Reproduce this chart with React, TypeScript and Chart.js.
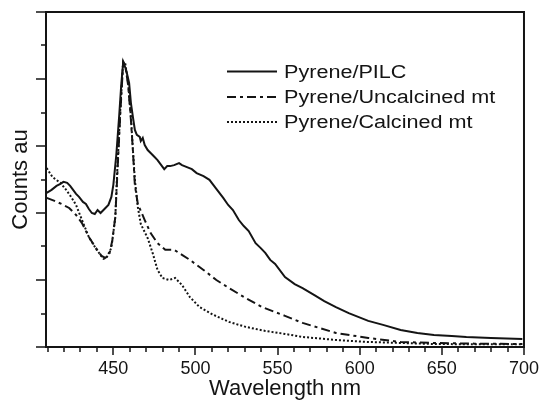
import React, { useEffect, useRef } from 'react';
import { Chart, registerables } from 'chart.js';

Chart.register(...registerables);

// ---- data ----
const seriesLabels = ['Pyrene/PILC', 'Pyrene/Uncalcined mt', 'Pyrene/Calcined mt'];

const pilcNm = [
  409.4, 412.4, 415.4, 417.8, 419.6, 421.9, 423.7, 425.5, 427.3, 429.1, 431.5, 433.3, 435.1, 436.9, 438.7,
  440.4, 442.2, 444.6, 447.0, 448.8, 450.0, 451.8, 453.6, 454.8, 456.0, 457.8, 459.6, 460.7, 461.9, 463.1,
  464.3, 466.1, 466.7, 467.9, 469.1, 470.9, 472.7, 475.1, 476.9, 478.7, 481.0, 482.8, 484.6, 487.0, 490.0,
  491.8, 494.8, 497.8, 500.7, 504.9, 508.5, 512.7, 516.9, 519.9, 522.8, 526.4, 529.4, 532.4, 536.6, 539.6,
  542.5, 545.5, 548.5, 554.5, 560.4, 565.2, 572.4, 578.4, 585.5, 593.3, 605.2, 614.2, 624.9, 635.1, 645.2,
  656.0, 664.9, 679.9, 699.0,
];
const pilcCounts = [
  4.60, 4.69, 4.81, 4.87, 4.93, 4.90, 4.81, 4.69, 4.57, 4.48, 4.33, 4.27, 4.12, 4.00, 3.97,
  4.09, 4.00, 4.12, 4.24, 4.48, 4.84, 5.73, 6.93, 7.82, 8.51, 8.27, 7.88, 7.28, 6.87, 6.48,
  6.33, 6.27, 6.15, 6.24, 6.03, 5.88, 5.79, 5.67, 5.58, 5.46, 5.31, 5.40, 5.40, 5.43, 5.49,
  5.43, 5.37, 5.31, 5.19, 5.10, 4.99, 4.72, 4.45, 4.24, 4.09, 3.79, 3.61, 3.46, 3.10, 2.96,
  2.81, 2.60, 2.48, 2.09, 1.88, 1.76, 1.55, 1.37, 1.19, 1.01, 0.78, 0.66, 0.51, 0.42, 0.36,
  0.33, 0.30, 0.27, 0.24,
];

const uncalcinedNm = [
  409.4, 414.2, 418.4, 423.1, 427.3, 430.9, 435.1, 439.3, 442.8, 445.2, 447.6, 449.4, 451.2, 452.4, 454.2,
  456.0, 457.2, 459.0, 460.7, 461.9, 463.1, 464.9, 469.1, 472.7, 476.9, 481.6, 487.0, 491.8, 496.6, 504.9,
  512.7, 520.4, 530.6, 540.7, 554.5, 565.2, 585.5, 605.2, 624.9, 645.2, 670.0, 699.0,
];
const uncalcinedCounts = [
  4.45, 4.36, 4.27, 4.15, 3.94, 3.70, 3.28, 2.96, 2.72, 2.66, 2.78, 3.19, 3.88, 5.13, 6.93,
  8.51, 8.42, 7.82, 6.78, 5.88, 4.84, 4.27, 3.79, 3.40, 3.10, 2.90, 2.90, 2.75, 2.60, 2.30,
  2.00, 1.76, 1.46, 1.19, 0.93, 0.72, 0.42, 0.27, 0.15, 0.12, 0.10, 0.09,
];

const calcinedNm = [
  409.4, 413.0, 417.8, 421.3, 424.3, 427.3, 430.9, 435.1, 439.9, 444.0, 445.8, 448.8, 451.2, 452.4, 454.2,
  456.0, 457.2, 459.0, 460.7, 461.9, 463.1, 464.9, 466.7, 470.9, 473.9, 476.9, 479.9, 484.0, 487.6, 491.8,
  496.6, 502.5, 510.9, 520.4, 530.6, 542.5, 554.5, 565.2, 585.5, 605.2, 624.9, 645.2, 670.0, 699.6,
];
const calcinedCounts = [
  5.34, 5.07, 4.90, 4.69, 4.48, 4.24, 3.79, 3.28, 2.90, 2.63, 2.66, 2.96, 3.88, 5.28, 7.07,
  8.51, 8.48, 7.88, 6.87, 5.88, 4.99, 4.18, 3.67, 3.25, 2.81, 2.30, 2.06, 2.00, 2.06, 1.85,
  1.49, 1.19, 0.96, 0.75, 0.60, 0.48, 0.39, 0.30, 0.21, 0.15, 0.12, 0.09, 0.08, 0.08,
];

const xTickLabels = [450, 500, 550, 600, 650, 700];
const xMinorTicks = [410, 420, 430, 440, 450, 460, 470, 480, 490, 500, 510, 520, 530, 540, 550, 560, 570, 580, 590, 600, 610, 620, 630, 640, 650, 660, 670, 680, 690, 700];
const yTicks = [0, 1, 2, 3, 4, 5, 6, 7, 8, 9, 10];
const X_MIN = 409;
const X_MAX = 700;
const Y_MIN = 0;
const Y_MAX = 10;

const INK = '#141414';
const FONT = '"Liberation Sans", Arial, Helvetica, sans-serif';

const toPoints = (xs: number[], ys: number[]) => xs.map((x, i) => ({ x, y: ys[i] }));

const framePlugin = {
  id: 'frameAndTicks',
  afterDraw(chart: any) {
    const { ctx, chartArea: a, scales } = chart;
    const xs = scales.x;
    const ys = scales.y;
    ctx.save();
    ctx.strokeStyle = INK;
    ctx.lineWidth = 2;
    ctx.strokeRect(a.left, a.top, a.right - a.left, a.bottom - a.top);
    ctx.beginPath();
    xMinorTicks.forEach((v) => {
      const px = Math.round(xs.getPixelForValue(v));
      const len = xTickLabels.includes(v) ? 8 : 5;
      ctx.moveTo(px, a.bottom);
      ctx.lineTo(px, a.bottom + len);
    });
    yTicks.forEach((v) => {
      const py = Math.round(ys.getPixelForValue(v));
      const len = v % 2 === 0 ? 10 : 5;
      ctx.moveTo(a.left, py);
      ctx.lineTo(a.left - len, py);
    });
    ctx.lineWidth = 1.5;
    ctx.stroke();
    ctx.restore();
  },
};

const legendPlugin = {
  id: 'insideLegend',
  afterDatasetsDraw(chart: any) {
    const { ctx, chartArea: a } = chart;
    const lineX0 = a.left + 181;
    const lineX1 = lineX0 + 50;
    const textX = lineX1 + 7;
    const rowYs = [a.top + 59.5, a.top + 85, a.top + 110];
    ctx.save();
    chart.data.datasets.forEach((ds: any, i: number) => {
      const yy = rowYs[i];
      ctx.beginPath();
      ctx.setLineDash(ds.borderDash || []);
      ctx.strokeStyle = INK;
      ctx.lineWidth = 2;
      ctx.moveTo(lineX0, yy);
      ctx.lineTo(lineX1, yy);
      ctx.stroke();
      ctx.setLineDash([]);
      ctx.save();
      ctx.translate(textX, yy + 6.3);
      ctx.scale(1.2, 1);
      ctx.font = `18px ${FONT}`;
      ctx.fillStyle = INK;
      ctx.textAlign = 'left';
      ctx.textBaseline = 'alphabetic';
      ctx.fillText(ds.label, 0, 0);
      ctx.restore();
    });
    ctx.restore();
  },
};

export default function App() {
  const canvasRef = useRef<HTMLCanvasElement | null>(null);

  useEffect(() => {
    document.body.style.margin = '0';
    const canvas = canvasRef.current;
    if (!canvas) return;
    const common = {
      fill: false,
      borderColor: INK,
      backgroundColor: INK,
      pointRadius: 0,
      tension: 0,
    };
    const chart = new Chart(canvas, {
      type: 'line',
      data: {
        datasets: [
          { ...common, label: seriesLabels[0], data: toPoints(pilcNm, pilcCounts), borderWidth: 2, borderDash: [] },
          { ...common, label: seriesLabels[1], data: toPoints(uncalcinedNm, uncalcinedCounts), borderWidth: 2, borderDash: [9, 4, 3, 4] },
          { ...common, label: seriesLabels[2], data: toPoints(calcinedNm, calcinedCounts), borderWidth: 2, borderDash: [2, 2] },
        ],
      },
      options: {
        animation: false,
        responsive: false,
        events: [],
        layout: { padding: { top: 12, right: 17, bottom: 0, left: 0 } },
        plugins: {
          legend: { display: false },
          tooltip: { enabled: false },
        },
        scales: {
          x: {
            type: 'linear',
            min: X_MIN,
            max: X_MAX,
            grid: { display: false, drawTicks: false },
            border: { display: false },
            afterBuildTicks: (scale: any) => {
              scale.ticks = xTickLabels.map((v) => ({ value: v }));
            },
            afterFit: (scale: any) => {
              scale.height = 55;
            },
            ticks: {
              padding: 11,
              maxRotation: 0,
              autoSkip: false,
              color: INK,
              font: { family: FONT, size: 18 },
              callback: (v: any) => String(v),
            },
            title: {
              display: true,
              text: 'Wavelength nm',
              color: INK,
              font: { family: FONT, size: 22 },
              padding: { top: 0, bottom: 0 },
            },
          },
          y: {
            type: 'linear',
            min: Y_MIN,
            max: Y_MAX,
            grid: { display: false, drawTicks: false },
            border: { display: false },
            ticks: { display: false, stepSize: 1 },
            afterFit: (scale: any) => {
              scale.width = 46;
            },
            title: {
              display: true,
              text: 'Counts au',
              color: INK,
              font: { family: FONT, size: 22 },
              padding: { top: 8, bottom: 0 },
            },
          },
        },
      },
      plugins: [framePlugin, legendPlugin],
    });
    return () => chart.destroy();
  }, []);

  return (
    <div style={{ width: 550, height: 402, background: '#fff' }}>
      <canvas ref={canvasRef} width={550} height={402} style={{ display: 'block' }} />
    </div>
  );
}
